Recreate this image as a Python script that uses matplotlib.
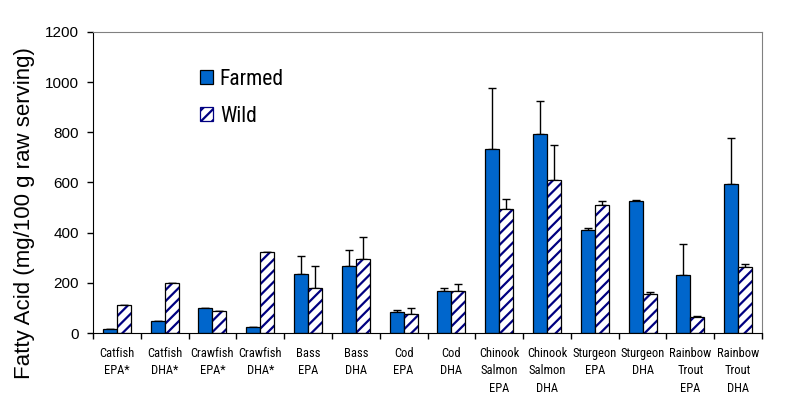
import numpy as np
import matplotlib
matplotlib.use("Agg")
import matplotlib.pyplot as plt
from matplotlib.patches import Patch

plt.rcParams["hatch.linewidth"] = 1.6

# data (mg/100 g raw serving)
labels = ["Catfish\nEPA*", "Catfish\nDHA*", "Crawfish\nEPA*", "Crawfish\nDHA*",
          "Bass\nEPA", "Bass\nDHA", "Cod\nEPA", "Cod\nDHA",
          "Chinook\nSalmon\nEPA", "Chinook\nSalmon\nDHA", "Sturgeon\nEPA", "Sturgeon\nDHA",
          "Rainbow\nTrout\nEPA", "Rainbow\nTrout\nDHA"]
farmed = [16, 48, 100, 24, 235, 267, 84, 167, 734, 793, 411, 526, 231, 594]
farmed_err = [0, 0, 0, 0, 72, 65, 8, 12, 243, 132, 8, 4, 124, 185]
wild = [113, 199, 88, 323, 179, 296, 76, 167, 494, 610, 510, 155, 64, 263]
wild_err = [0, 0, 0, 0, 88, 87, 24, 28, 40, 140, 16, 8, 4, 12]

narrow = ["Roboto Condensed", "Liberation Sans", "DejaVu Sans"]
regular = ["Liberation Sans", "DejaVu Sans"]

blue = "#0066CC"
navy = "#000080"

fig = plt.figure(figsize=(8.02, 4.15), dpi=100)
ax = fig.add_axes([93 / 802, 1 - 333 / 415, (762 - 93) / 802, (333 - 32) / 415])

x = np.arange(len(labels)) + 0.5
w = 0.293

ax.bar(x - w / 2, farmed, w, color=blue, edgecolor="black", linewidth=0.9, zorder=2)
# hatch drawn in navy, outline in black on top
ax.bar(x + w / 2, wild, w, color="white", edgecolor=navy, hatch="///", linewidth=0, zorder=2)
ax.bar(x + w / 2, wild, w, fill=False, edgecolor="black", linewidth=0.9, zorder=3)

zeros = np.zeros(len(labels))
ax.errorbar(x - w / 2, farmed, yerr=[zeros, farmed_err], fmt="none", ecolor="black",
            elinewidth=1, capsize=3, capthick=1, zorder=1)
ax.errorbar(x + w / 2, wild, yerr=[zeros, wild_err], fmt="none", ecolor="black",
            elinewidth=1, capsize=3, capthick=1, zorder=1)

ax.set_xlim(0, len(labels))
ax.set_ylim(0, 1200)
ax.set_yticks(range(0, 1201, 200))
ax.tick_params(axis="y", direction="out", length=4, width=1, pad=6, labelsize=11)
for t in ax.get_yticklabels():
    t.set_family(regular)

ax.set_xticks(np.arange(len(labels) + 1))
ax.set_xticklabels([])
ax.set_xticks(x, minor=True)
ax.set_xticklabels(labels, minor=True, fontsize=9, family=narrow, linespacing=1.45, va="top")
ax.tick_params(axis="x", which="major", direction="out", length=4, width=1)
ax.tick_params(axis="x", which="minor", length=0, pad=10)

for s in ["top", "right"]:
    ax.spines[s].set_color("#808080")
for s in ["left", "bottom"]:
    ax.spines[s].set_color("black")

fig.text(25 / 802, 1 - 213 / 415, "Fatty Acid (mg/100 g raw serving)", rotation=90,
         ha="center", va="center", fontsize=16, family=regular)

handles = [Patch(facecolor=blue, edgecolor="black", linewidth=0.9),
           Patch(facecolor="white", edgecolor=navy, hatch="///", linewidth=0.9)]
ax.legend(handles, ["Farmed", "Wild"], loc="upper left",
          bbox_to_anchor=(200 / 802, 1 - 69 / 415), bbox_transform=fig.transFigure,
          frameon=False, prop={"family": narrow, "size": 15.5},
          handlelength=0.62, handleheight=0.62, handletextpad=0.3,
          labelspacing=0.72, borderpad=0, borderaxespad=0)

fig.savefig("out.png", dpi=100)
